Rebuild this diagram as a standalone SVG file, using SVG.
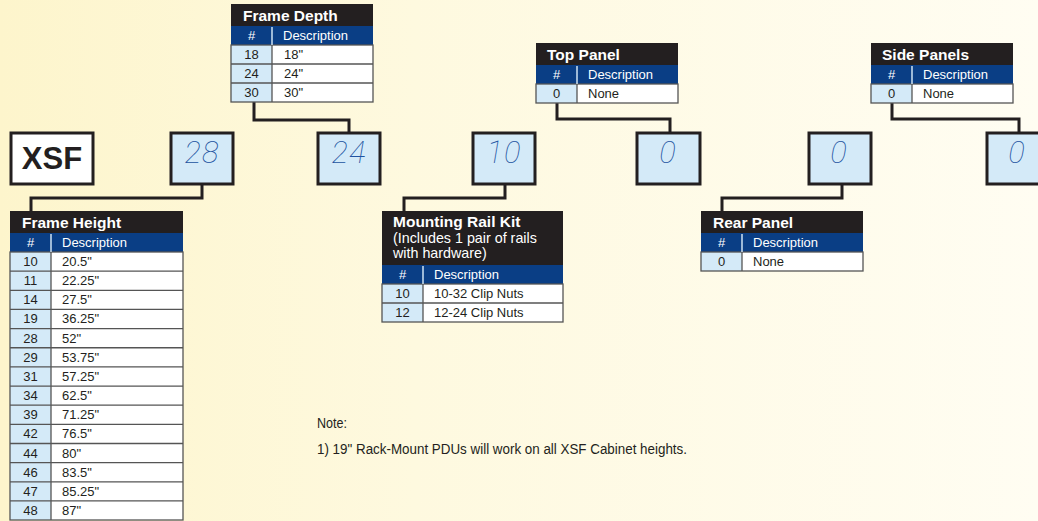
<svg xmlns="http://www.w3.org/2000/svg" width="1038" height="521" viewBox="0 0 1038 521">
<defs>
<linearGradient id="bg" x1="0" y1="0" x2="1" y2="0">
<stop offset="0" stop-color="#fdf5cc"/>
<stop offset="0.4" stop-color="#fef9df"/>
<stop offset="1" stop-color="#fffdf2"/>
</linearGradient>
<style>
.tb{fill:#231f20}
.hb{fill:#0a3e85}
.nc{fill:#d4eaf8}
.dc{fill:#ffffff}
.grid{fill:none;stroke:#555555;stroke-width:1.3}
.hdiv{stroke:#cfe3f3;stroke-width:1.5}
.ttl{font-family:"Liberation Sans",Arial,sans-serif;font-weight:bold;font-size:15.5px;fill:#ffffff}
.sub{font-family:"Liberation Sans",Arial,sans-serif;font-size:14.3px;fill:#ffffff}
.hdr{font-family:"Liberation Sans",Arial,sans-serif;font-size:13px;fill:#ffffff}
.cell{font-family:"Liberation Sans",Arial,sans-serif;font-size:13px;fill:#231f20}
.c{text-anchor:middle}
.box{fill:#d4eaf8;stroke:#231f20;stroke-width:3}
.val{font-family:Roboto,Inter,"DejaVu Sans",sans-serif;font-weight:100;font-style:italic;font-size:31px;fill:#2153a0;text-anchor:middle;letter-spacing:1px}
.conn{fill:none;stroke:#231f20;stroke-width:3}
.note{font-family:"Liberation Sans",Arial,sans-serif;font-size:14px;fill:#231f20}
</style>
</defs>
<rect x="0" y="0" width="1038" height="521" fill="url(#bg)"/>

<g id="connectors">
<path class="conn" d="M202 184V198H31V211"/>
<path class="conn" d="M254 102V120H349V133"/>
<path class="conn" d="M505 184V198H404V211"/>
<path class="conn" d="M557 103V119H670V133"/>
<path class="conn" d="M842 184V198H722V211"/>
<path class="conn" d="M892 103V119H1019V133"/>
</g>

<g id="xsf">
<rect x="11" y="133" width="82" height="51" fill="#ffffff" stroke="#231f20" stroke-width="3"/>
<text x="52" y="169" font-family="'Liberation Sans',Arial,sans-serif" font-weight="bold" font-size="31" fill="#231f20" text-anchor="middle">XSF</text>
</g>

<g id="box-height"><rect class="box" x="171" y="133" width="62" height="51"/><text class="val" x="202" y="163">28</text></g>
<g id="box-depth"><rect class="box" x="318" y="133" width="62" height="51"/><text class="val" x="349" y="163">24</text></g>
<g id="box-rail"><rect class="box" x="473" y="133" width="62" height="51"/><text class="val" x="504" y="163">10</text></g>
<g id="box-top"><rect class="box" x="637" y="133" width="63" height="51"/><text class="val" x="668" y="163">0</text></g>
<g id="box-rear"><rect class="box" x="809" y="133" width="62" height="51"/><text class="val" x="839" y="163">0</text></g>
<g id="box-side"><rect class="box" x="987" y="133" width="62" height="51"/><text class="val" x="1017" y="163">0</text></g>

<g id="frame-height">
<rect class="tb" x="10" y="211" width="173" height="22"/>
<rect class="hb" x="10" y="233" width="173" height="19"/>
<rect class="nc" x="10" y="252" width="41" height="268"/>
<rect class="dc" x="51" y="252" width="132" height="268"/>
<path class="grid" d="M10 271.15H183M10 290.3H183M10 309.45H183M10 328.6H183M10 347.75H183M10 366.9H183M10 386.05H183M10 405.2H183M10 424.35H183M10 443.5H183M10 462.65H183M10 481.8H183M10 500.95H183M51 252V520"/>
<rect class="grid" x="10" y="252" width="173" height="268"/>
<line class="hdiv" x1="51" y1="234" x2="51" y2="252"/>
<text class="ttl" x="22" y="228">Frame Height</text>
<text class="hdr c" x="30.5" y="247">#</text>
<text class="hdr" x="62" y="247">Description</text>
<text class="cell c" x="30.5" y="266">10</text><text class="cell" x="62" y="266">20.5"</text>
<text class="cell c" x="30.5" y="285.15">11</text><text class="cell" x="62" y="285.15">22.25"</text>
<text class="cell c" x="30.5" y="304.3">14</text><text class="cell" x="62" y="304.3">27.5"</text>
<text class="cell c" x="30.5" y="323.45">19</text><text class="cell" x="62" y="323.45">36.25"</text>
<text class="cell c" x="30.5" y="342.6">28</text><text class="cell" x="62" y="342.6">52"</text>
<text class="cell c" x="30.5" y="361.75">29</text><text class="cell" x="62" y="361.75">53.75"</text>
<text class="cell c" x="30.5" y="380.9">31</text><text class="cell" x="62" y="380.9">57.25"</text>
<text class="cell c" x="30.5" y="400.05">34</text><text class="cell" x="62" y="400.05">62.5"</text>
<text class="cell c" x="30.5" y="419.2">39</text><text class="cell" x="62" y="419.2">71.25"</text>
<text class="cell c" x="30.5" y="438.35">42</text><text class="cell" x="62" y="438.35">76.5"</text>
<text class="cell c" x="30.5" y="457.5">44</text><text class="cell" x="62" y="457.5">80"</text>
<text class="cell c" x="30.5" y="476.65">46</text><text class="cell" x="62" y="476.65">83.5"</text>
<text class="cell c" x="30.5" y="495.8">47</text><text class="cell" x="62" y="495.8">85.25"</text>
<text class="cell c" x="30.5" y="514.95">48</text><text class="cell" x="62" y="514.95">87"</text>
</g>

<g id="frame-depth">
<rect class="tb" x="231" y="4" width="142" height="22"/>
<rect class="hb" x="231" y="26" width="142" height="19"/>
<rect class="nc" x="231" y="45" width="41" height="57"/>
<rect class="dc" x="272" y="45" width="101" height="57"/>
<path class="grid" d="M231 64H373M231 83H373M272 45V102"/>
<rect class="grid" x="231" y="45" width="142" height="57"/>
<line class="hdiv" x1="272" y1="27" x2="272" y2="45"/>
<text class="ttl" x="243" y="21">Frame Depth</text>
<text class="hdr c" x="251.5" y="40">#</text>
<text class="hdr" x="283" y="40">Description</text>
<text class="cell c" x="251.5" y="59">18</text><text class="cell" x="284" y="59">18"</text>
<text class="cell c" x="251.5" y="78">24</text><text class="cell" x="284" y="78">24"</text>
<text class="cell c" x="251.5" y="97">30</text><text class="cell" x="284" y="97">30"</text>
</g>

<g id="top-panel">
<rect class="tb" x="536" y="43" width="142" height="22"/>
<rect class="hb" x="536" y="65" width="142" height="19"/>
<rect class="nc" x="536" y="84" width="41" height="19"/>
<rect class="dc" x="577" y="84" width="101" height="19"/>
<path class="grid" d="M577 84V103"/>
<rect class="grid" x="536" y="84" width="142" height="19"/>
<line class="hdiv" x1="577" y1="66" x2="577" y2="84"/>
<text class="ttl" x="547" y="60">Top Panel</text>
<text class="hdr c" x="556.5" y="79">#</text>
<text class="hdr" x="588" y="79">Description</text>
<text class="cell c" x="556.5" y="98">0</text><text class="cell" x="588" y="98">None</text>
</g>

<g id="side-panels">
<rect class="tb" x="871" y="43" width="142" height="22"/>
<rect class="hb" x="871" y="65" width="142" height="19"/>
<rect class="nc" x="871" y="84" width="41" height="19"/>
<rect class="dc" x="912" y="84" width="101" height="19"/>
<path class="grid" d="M912 84V103"/>
<rect class="grid" x="871" y="84" width="142" height="19"/>
<line class="hdiv" x1="912" y1="66" x2="912" y2="84"/>
<text class="ttl" x="882" y="60">Side Panels</text>
<text class="hdr c" x="891.5" y="79">#</text>
<text class="hdr" x="923" y="79">Description</text>
<text class="cell c" x="891.5" y="98">0</text><text class="cell" x="923" y="98">None</text>
</g>

<g id="rear-panel">
<rect class="tb" x="701" y="211" width="162" height="22"/>
<rect class="hb" x="701" y="233" width="162" height="19"/>
<rect class="nc" x="701" y="252" width="41" height="19"/>
<rect class="dc" x="742" y="252" width="121" height="19"/>
<path class="grid" d="M742 252V271"/>
<rect class="grid" x="701" y="252" width="162" height="19"/>
<line class="hdiv" x1="742" y1="234" x2="742" y2="252"/>
<text class="ttl" x="713" y="228">Rear Panel</text>
<text class="hdr c" x="721.5" y="247">#</text>
<text class="hdr" x="753" y="247">Description</text>
<text class="cell c" x="721.5" y="266">0</text><text class="cell" x="753" y="266">None</text>
</g>

<g id="mounting-rail">
<rect class="tb" x="382" y="211" width="181" height="54"/>
<rect class="hb" x="382" y="265" width="181" height="19"/>
<rect class="nc" x="382" y="284" width="41" height="38"/>
<rect class="dc" x="423" y="284" width="140" height="38"/>
<path class="grid" d="M382 303H563M423 284V322"/>
<rect class="grid" x="382" y="284" width="181" height="38"/>
<line class="hdiv" x1="423" y1="266" x2="423" y2="284"/>
<text class="ttl" x="393" y="227">Mounting Rail Kit</text>
<text class="sub" x="393" y="243">(Includes 1 pair of rails</text>
<text class="sub" x="393" y="258">with hardware)</text>
<text class="hdr c" x="402.5" y="279">#</text>
<text class="hdr" x="434" y="279">Description</text>
<text class="cell c" x="402.5" y="298">10</text><text class="cell" x="434" y="298">10-32 Clip Nuts</text>
<text class="cell c" x="402.5" y="317">12</text><text class="cell" x="434" y="317">12-24 Clip Nuts</text>
</g>

<g id="note">
<text class="note" x="317" y="428" textLength="30" lengthAdjust="spacingAndGlyphs">Note:</text>
<text class="note" x="317" y="454" textLength="370" lengthAdjust="spacingAndGlyphs">1) 19" Rack-Mount PDUs will work on all XSF Cabinet heights.</text>
</g>
</svg>
